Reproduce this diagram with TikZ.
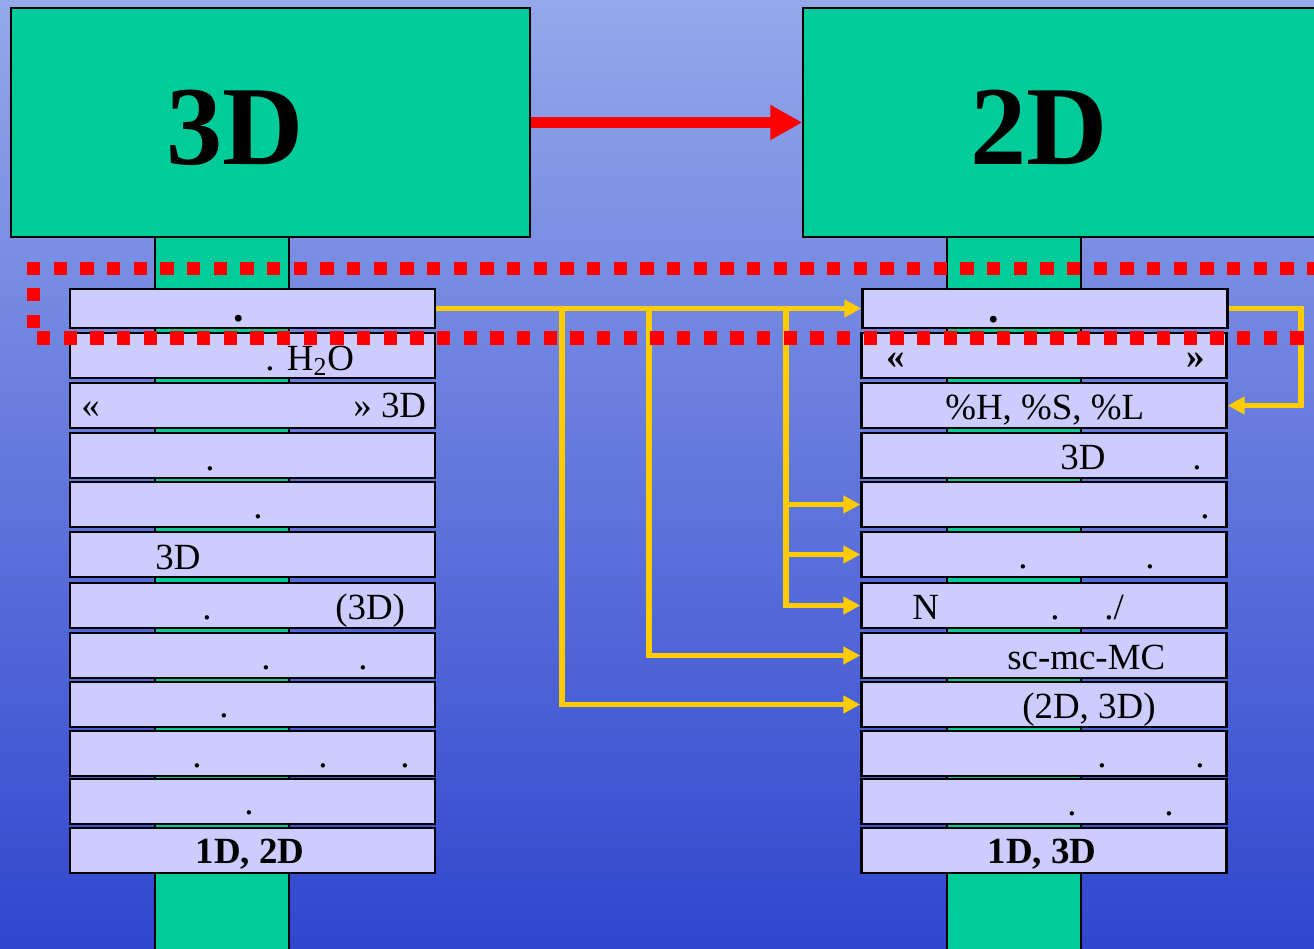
\documentclass[tikz,border=0pt]{standalone}
\usepackage{fontspec}
\setmainfont{Liberation Serif}
\usetikzlibrary{arrows.meta, positioning}
\definecolor{bgtop}{RGB}{148,168,234}
\definecolor{bgbottom}{RGB}{48,70,206}
\definecolor{stemgreen}{RGB}{0,204,153}
\definecolor{itemlilac}{RGB}{204,204,255}
\definecolor{linkyellow}{RGB}{255,204,0}

\begin{document}
\begin{tikzpicture}[x=0.02cm, y=-0.02cm,
  bigbox/.style={draw=black, line width=0.9pt, fill=stemgreen, minimum height=4.58cm, inner sep=0},
  bigtxt/.style={inner sep=0, anchor=base west, font=\bfseries\fontsize{64}{70}\selectfont},
  item/.style={draw=black, line width=1.4pt, fill=itemlilac, minimum width=7.3cm, minimum height=0.9cm, inner sep=0},
  lab/.style={inner sep=0, anchor=base west, font=\fontsize{21}{24}\selectfont},
  dotlab/.style={lab, anchor=base},
  boldlab/.style={lab, font=\bfseries\fontsize{21}{24}\selectfont},
  link/.style={draw=linkyellow, line width=3.4pt, -{Triangle[length=0.34cm, width=0.34cm]}},
  trunk/.style={draw=linkyellow, line width=3.4pt},
  reddots/.style={draw=red, line width=7.4pt, dash pattern=on 0.266cm off 0.2674cm}]

\useasboundingbox (0,0) rectangle (1314,949);
\clip (0,0) rectangle (1314,949);

% background
\shade[top color=bgtop, bottom color=bgbottom] (0,0) rectangle (1314,949);

% green stems
\filldraw[fill=stemgreen, draw=black, line width=0.6pt] (155,230) rectangle (289,960);
\filldraw[fill=stemgreen, draw=black, line width=0.6pt] (947,230) rectangle (1081,960);

% top boxes
\node[bigbox, minimum width=10.38cm] (B3D) at (270.5,122.5) {};
\node[bigbox, minimum width=10.3cm] (B2D) at (1060.5,122.5) {};
\node[bigtxt] (T3D) at (166,165) {3D};
\node[bigtxt] (T2D) at (970,165) {2D};
\draw[red, line width=6.2pt, -{Triangle[length=0.64cm, width=0.66cm]}] (B3D) -- (B2D);

% item boxes
\node[item, minimum height=0.78cm] (L1) at (252.5,308.5) {};
\node[item, minimum height=0.78cm] (R1) at (1045,308.5) {};
\foreach \n/\cy in {2/355.5, 3/405.5, 4/455.5, 5/504.5, 6/554.5, 7/605.5,
                    8/655.5, 9/704.5, 10/753.5, 11/801.5, 12/850.5} {
  \node[item] (L\n) at (252.5,\cy) {};
  \node[item] (R\n) at (1044,\cy) {};
}

% left column texts
\node[dotlab, font=\bfseries\fontsize{24}{26}\selectfont] (L1a) at (239,321) {.};
\node[lab] (L2a) at (265,370) {. H\textsubscript{2}O};
\node[lab] (L3a) at (81,417) {«};
\node[lab] (L3b) at (353,417) {» 3D};
\node[dotlab] (L4a) at (210,470) {.};
\node[dotlab] (L5a) at (258,518) {.};
\node[lab] (L6a) at (155,569) {3D};
\node[dotlab] (L7a) at (207,619) {.};
\node[lab] (L7b) at (335,619) {(3D)};
\node[dotlab] (L8a) at (266,669) {.};
\node[dotlab] (L8b) at (363,669) {.};
\node[dotlab] (L9a) at (224,717) {.};
\node[dotlab] (L10a) at (197,767) {.};
\node[dotlab] (L10b) at (323,767) {.};
\node[dotlab] (L10c) at (405,767) {.};
\node[dotlab] (L11a) at (249,814) {.};
\node[boldlab, anchor=base] (L12a) at (250,863) {1D, 2D};

% right column texts
\node[dotlab, font=\bfseries\fontsize{24}{26}\selectfont] (R1a) at (994,322) {.};
\node[boldlab] (R2a) at (886,368) {«};
\node[boldlab] (R2b) at (1186,368) {»};
\node[lab] (R3a) at (945,419) {\%H, \%S, \%L};
\node[lab] (R4a) at (1060,469) {3D};
\node[dotlab] (R4b) at (1197,469) {.};
\node[dotlab] (R5a) at (1205,518) {.};
\node[dotlab] (R6a) at (1023,568) {.};
\node[dotlab] (R6b) at (1150,568) {.};
\node[lab] (R7a) at (912,619) {N};
\node[dotlab] (R7b) at (1055,619) {.};
\node[lab] (R7c) at (1104,619) {./};
\node[lab] (R8a) at (1007,669) {sc-mc-MC};
\node[lab] (R9a) at (1022,718) {(2D, 3D)};
\node[dotlab] (R10a) at (1102,767) {.};
\node[dotlab] (R10b) at (1200,767) {.};
\node[dotlab] (R11a) at (1072,815) {.};
\node[dotlab] (R11b) at (1169,815) {.};
\node[boldlab, anchor=base] (R12a) at (1042,863) {1D, 3D};

% yellow links
\coordinate (j1) at (562,308.5);
\coordinate (j2) at (649,308.5);
\coordinate (j3) at (786,308.5);
\draw[link] (L1.east) -- (R1.west);
\draw[link] (j1) |- (R9.west);
\draw[link] (j2) |- (R8.west);
\draw[link] (j3) |- (R7.west);
\draw[link] (j3 |- R5.west) -- (R5.west);
\draw[link] (j3 |- R6.west) -- (R6.west);
\draw[link] (R1.east) -- ++(72,0) |- (R3.east);

% red dotted frame
\draw[reddots] (27,268.5) -- (1330,268.5);
\draw[reddots] (33.5,288) -- (33.5,331);
\draw[reddots] (37,338) -- (1330,338);

\end{tikzpicture}
\end{document}
